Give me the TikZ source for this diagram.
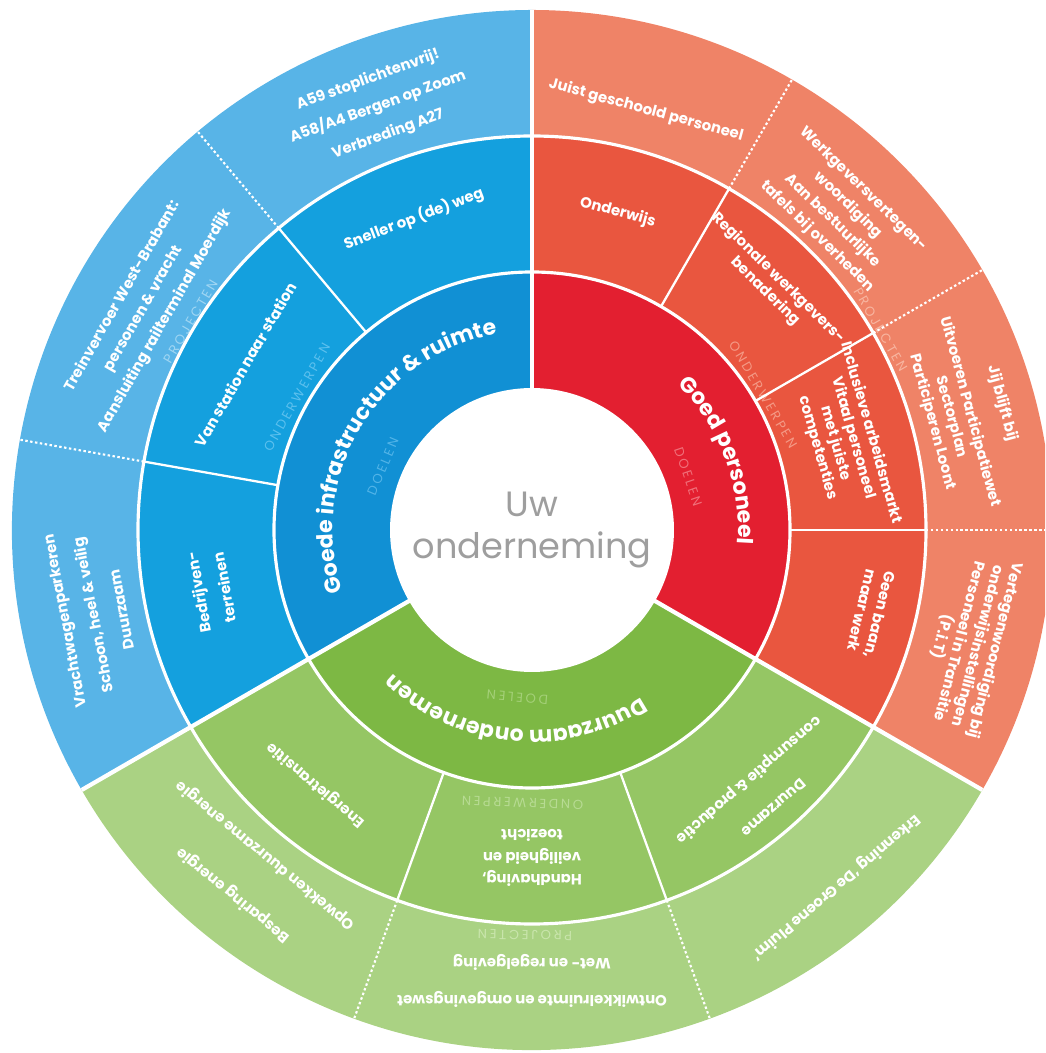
\documentclass[tikz,border=0pt]{standalone}
\usepackage{fontspec}
\setmainfont{Poppins}
\usepackage{tikz}
\usetikzlibrary{decorations.text}
\usetikzlibrary{calc}
\usepackage{xcolor}

\definecolor{blueA}{HTML}{1190D4}
\definecolor{blueB}{HTML}{14A0DE}
\definecolor{blueC}{HTML}{58B4E7}
\definecolor{redA}{HTML}{E31F30}
\definecolor{redB}{HTML}{E9563F}
\definecolor{redC}{HTML}{EF8367}
\definecolor{greenA}{HTML}{7DB844}
\definecolor{greenB}{HTML}{95C664}
\definecolor{greenC}{HTML}{AAD283}
\definecolor{blueLblA}{HTML}{52B4E8}
\definecolor{blueLblB}{HTML}{5CC0EE}
\definecolor{blueLblC}{HTML}{A0D6F3}
\definecolor{redLblA}{HTML}{F0707A}
\definecolor{redLblB}{HTML}{F49A86}
\definecolor{redLblC}{HTML}{F8B5A0}
\definecolor{greenLblA}{HTML}{A4D078}
\definecolor{greenLblB}{HTML}{B7DB93}
\definecolor{greenLblC}{HTML}{C9E5AC}
\definecolor{coreGray}{HTML}{9E9E9E}

\tikzset{
  % Common styles for the wheel
  item/.style={text=white, font=\bfseries\fontsize{8.5}{10.5}\selectfont, align=center, inner sep=0pt},
  ringlabel/.style={font=\fontsize{7.5}{9}\selectfont\addfontfeatures{LetterSpace=20}, inner sep=0pt},
  rim/.style={draw=white, line width=1.8pt},
  split/.style={draw=white, line width=1.3pt},
  dotsplit/.style={draw=white, line width=1.2pt, dash pattern=on 1.4pt off 1.4pt},
  border/.style={draw=white, line width=2.4pt},
  title/.style={decorate, decoration={text along path, text align=center, text color=white,
    text={|\bfseries\fontsize{12.5}{14}\selectfont|#1}}}
}

% colour, from angle, to angle, inner radius, outer radius
\newcommand{\band}[5]{%
  \fill[#1] (#2:#4) arc[start angle=#2, end angle=#3, radius=#4] -- (#3:#5)
    arc[start angle=#3, end angle=#2, radius=#5] -- cycle;}

\begin{document}
\begin{tikzpicture}[x=0.02cm, y=0.02cm]
    \useasboundingbox (-532,-523) rectangle (513,530);
    \clip (-532,-523) rectangle (513,530);

    % Rings
    \band{blueA}{90}{210}{140}{258}
    \band{blueB}{90}{210}{258}{394}
    \band{blueC}{90}{210}{394}{520}
    \band{redA}{-30}{90}{140}{258}
    \band{redB}{-30}{90}{258}{394}
    \band{redC}{-30}{90}{394}{520}
    \band{greenA}{210}{330}{140}{258}
    \band{greenB}{210}{330}{258}{394}
    \band{greenC}{210}{330}{394}{520}

    % Ring labels
    \node[ringlabel, text=blueLblA, rotate=67] (doelenB) at (157:162) {DOELEN};
    \node[ringlabel, text=blueLblB, rotate=60.6] (onderwB) at (150.6:270) {ONDERWERPEN};
    \node[ringlabel, text=blueLblC, rotate=59.6] (projB) at (148.6:400) {PROJECTEN};
    \node[ringlabel, text=redLblA, rotate=-71.2] (doelenR) at (18.8:165) {DOELEN};
    \node[ringlabel, text=redLblB, rotate=-59.6] (onderwR) at (30.4:268) {ONDERWERPEN};
    \node[ringlabel, text=redLblC, rotate=-60.1] (projR) at (29.9:402) {PROJECTEN};
    \node[ringlabel, text=greenLblA, rotate=175] (doelenG) at (265:168) {DOELEN};
    \node[ringlabel, text=greenLblB, rotate=178] (onderwG) at (268:273) {ONDERWERPEN};
    \node[ringlabel, text=greenLblC, rotate=179] (projG) at (269:405) {PROJECTEN};

    % White lines
    \draw[rim] (0,0) circle[radius=258];
    \draw[rim] (0,0) circle[radius=394];
    \foreach \a in {130,170,60,30,0,250,290}
      \draw[split] (\a:258) -- (\a:394);
    \foreach \a in {130,170,60,30,0,250,290}
      \draw[dotsplit] (\a:394) -- (\a:520);
    \foreach \a in {90,210,330}
      \draw[border] (\a:140) -- (\a:520);

    % Centre
    \node[circle, fill=white, minimum size=5.68cm, inner sep=0pt, text=coreGray,
      font=\fontsize{20}{24}\selectfont, align=center] (core) at (0,0) {Uw\\onderneming};

    % Goals
    \path[title={Goede infrastructuur {\&} ruimte}] (214:199) arc[start angle=214, end angle=84, radius=199];
    \path[title={Goed personeel}] (61:206) arc[start angle=61, end angle=-20, radius=206];
    \path[title={Duurzaam ondernemen}] (309:200) arc[start angle=309, end angle=220, radius=200];

    % Topics
    \node[item, rotate=20.8] (sneller) at (110.8:333) {Sneller op (de) weg};
    \node[item, rotate=60] (station) at (150:331) {Van station naar station};
    \node[item, rotate=100.6] (terrein) at (190.6:326) {Bedrijven-\\[4.5pt]terreinen};
    \node[item, rotate=-15.1] (onderwijs) at (74.9:329) {Onderwijs};
    \node[item, rotate=-44.4] (regio) at (45.6:343) {Regionale werkgevers-\\benadering};
    \node[item, rotate=-74] (inclusief) at (16:325) {Inclusieve arbeidsmarkt\\Vitaal personeel\\met juiste\\competenties};
    \node[item, rotate=-103.7] (geenbaan) at (-13.7:349) {Geen baan,\\maar werk};
    \node[item, rotate=139.7] (energie) at (229.7:334) {Energietransitie};
    \node[item, rotate=180] (handhaving) at (270:328) {Handhaving,\\[2.5pt]veiligheid en\\[2.5pt]toezicht};
    \node[item, rotate=221] (consumptie) at (311:348) {Duurzame\\[10.5pt]consumptie \& productie};

    % Projects
    \node[item, rotate=20] (wegen) at (110:450) {A59 stoplichtenvrij!\\[6pt]A58/A4 Bergen op Zoom\\[6pt]Verbreding A27};
    \node[item, rotate=60.3] (trein) at (150.3:447) {Treinvervoer West-Brabant:\\[3.5pt]personen \& vracht\\[3.5pt]Aansluiting railterminal Moerdijk};
    \node[item, rotate=101] (vracht) at (191:447) {Vrachtwagenparkeren\\[6pt]Schoon, heel \& veilig\\[6pt]Duurzaam};
    \node[item, rotate=-15.2] (geschoold) at (74.8:435) {Juist geschoold personeel};
    \node[item, rotate=-44.2] (tafels) at (45.8:442) {Werkgeversvertegen-\\[2pt]woordiging\\[2pt]Aan bestuurlijke\\[2pt]tafels bij overheden};
    \node[item, rotate=-74.9] (participatie) at (15.1:451) {Jij blijft bij\\[8.5pt]Uitvoeren Participatiewet\\[0.5pt]Sectorplan\\[0.5pt]Participeren Loont};
    \node[item, rotate=-104.6] (transitie) at (-14.6:451) {Vertegenwoordiging bij\\onderwijsinstellingen\\Personeel in Transitie\\(P.i.T)};
    \node[item, rotate=140.7] (besparing) at (230.7:446) {Besparing energie\\[18.5pt]Opwekken duurzame energie};
    \node[item, rotate=180] (wetgeving) at (270:451) {Ontwikkelruimte en omgevingswet\\[10.5pt]Wet- en regelgeving};
    \node[item, rotate=220.4] (pluim) at (310.4:469) {Erkenning `De Groene Pluim'};
\end{tikzpicture}
\end{document}
